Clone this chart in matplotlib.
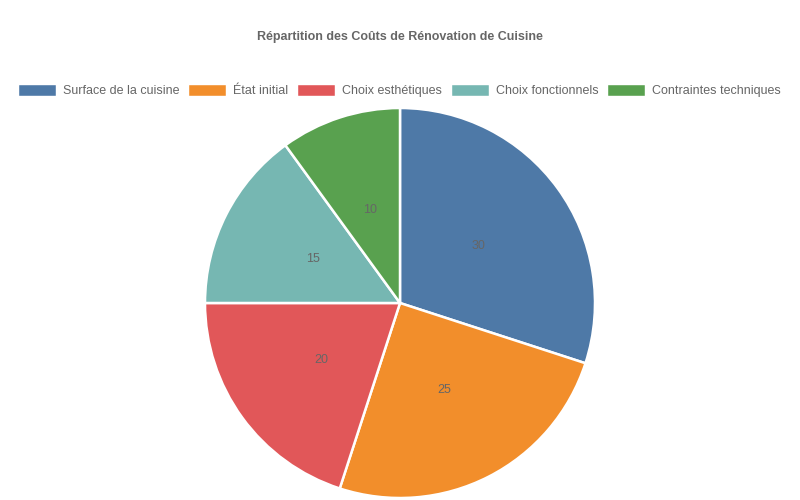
import matplotlib.pyplot as plt
from matplotlib.patches import Patch

plt.rcParams['font.family'] = ['Liberation Sans', 'DejaVu Sans']

# data
categories = ['Surface de la cuisine', 'État initial', 'Choix esthétiques',
              'Choix fonctionnels', 'Contraintes techniques']
values = [30, 25, 20, 15, 10]
colors = ['#4e79a7', '#f28e2b', '#e15759', '#76b7b2', '#59a14f']

fig = plt.figure(figsize=(8, 5), dpi=100)
ax = fig.add_axes([205 / 800, 2 / 500, 390 / 800, 390 / 500])

total = sum(values)
wedges, texts, autotexts = ax.pie(
    values, colors=colors, startangle=90, counterclock=False,
    autopct=lambda p: f"{round(p * total / 100):.0f}", pctdistance=0.5,
    wedgeprops=dict(edgecolor='white', linewidth=1.8),
    textprops=dict(color='#666666', fontsize=9))
ax.set_xlim(-1, 1)
ax.set_ylim(-1, 1)

fig.text(0.5, 1 - 37 / 500, 'Répartition des Coûts de Rénovation de Cuisine',
         ha='center', va='center', fontsize=9, fontweight='bold', color='#666666')

handles = [Patch(facecolor=c, edgecolor='white', linewidth=0.3) for c in colors]
leg = fig.legend(handles, categories, loc='center', bbox_to_anchor=(0.5, 1 - 91 / 500),
                 ncol=5, frameon=False, fontsize=9, handlelength=2.95, handleheight=1.0,
                 handletextpad=0.55, columnspacing=0.8, borderaxespad=0)
for t in leg.get_texts():
    t.set_color('#666666')

fig.savefig('out.png', dpi=100)
